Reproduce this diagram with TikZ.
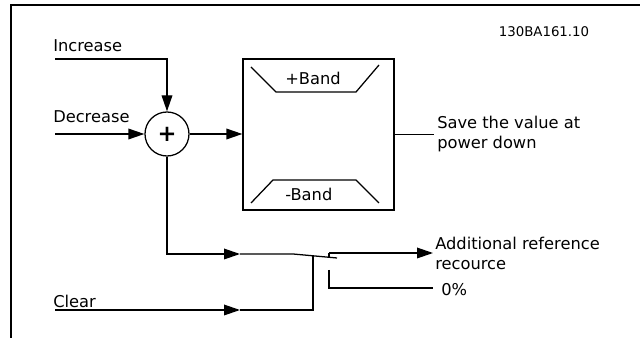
\documentclass[tikz,border=0pt]{standalone}
\usepackage{fontspec}
\setmainfont{DejaVu Sans}
\usetikzlibrary{arrows.meta, positioning}
\tikzset{
  wire/.style={line width=0.95pt},
  lbl/.style={font=\fontsize{12.2}{15}\selectfont, inner sep=0pt, anchor=west},
  sumnode/.style={circle, draw, line width=0.95pt, minimum size=33pt, inner sep=0pt},
  bandbox/.style={draw, line width=0.95pt, minimum width=113.25pt, minimum height=113.25pt, inner sep=0pt}
}
\begin{document}
\begin{tikzpicture}[x=0.75pt, y=-0.75pt, >={Triangle[length=12pt, width=8pt]}]
  \useasboundingbox (0,0) rectangle (640,338);
  % Frame
  \draw[line width=1.6pt] (11,338) -- (11,5) -- (640,5);
  \node[font=\fontsize{10}{12}\selectfont, inner sep=0pt] (code) at (544,32) {130BA161.10};
  % Adder and band block
  \node[sumnode] (sum) at (167,134) {\fontsize{17}{17}\selectfont\bfseries +};
  \node[bandbox] (band) at (318.5,134.5) {};
  \draw[wire] (251,67) -- (276,92) -- (356,92) -- (379,65);
  \draw[wire] (251,203) -- (273,180) -- (356,180) -- (379,203);
  \node[lbl] (plusband) at (285,78) {+Band};
  \node[lbl] (minusband) at (285,194) {-Band};
  % Inputs
  \coordinate (inc) at (55,59);
  \coordinate (dec) at (55,134);
  \node[lbl] (incl) at (53,46) {Increase};
  \node[lbl] (decl) at (53,117) {Decrease};
  \draw[wire, ->] (inc) -| (sum.north);
  \draw[wire, ->] (dec) -- (sum.west);
  \draw[wire, ->] (sum.east) -- (sum.east -| band.west);
  % Output of block
  \coordinate (save) at (434,134.5);
  \draw[wire] (band.east) -- (save);
  \node[lbl, align=left] (savel) at (437,134) {Save the value at\\power down};
  % Switch
  \coordinate (arra) at (240,254);
  \coordinate (swin) at (293,254);
  \coordinate (blade) at (337,258);
  \coordinate (conta) at (329,253);
  \coordinate (contb) at (329,270);
  \coordinate (clear) at (55,310);
  \coordinate (arrb) at (240,310);
  \coordinate (lever) at (313,310);
  \coordinate (outa) at (433,253);
  \coordinate (outb) at (433,288);
  \draw[wire, ->] (sum.south) |- (arra);
  \draw[wire] (arra) -- (swin) -- (blade);
  \draw[wire] (conta) -- ++(0,5);
  \draw[wire, ->] (conta) -- (outa);
  \draw[wire] (contb) |- (outb);
  \draw[wire, ->] (clear) -- (arrb);
  \draw[wire] (arrb) -- (lever) -- (313,256);
  \node[lbl] (clearl) at (53,301) {Clear};
  \node[lbl, align=left] (addl) at (435,253) {Additional reference\\recource};
  \node[lbl] (zerol) at (441,290) {0\%};
\end{tikzpicture}
\end{document}
